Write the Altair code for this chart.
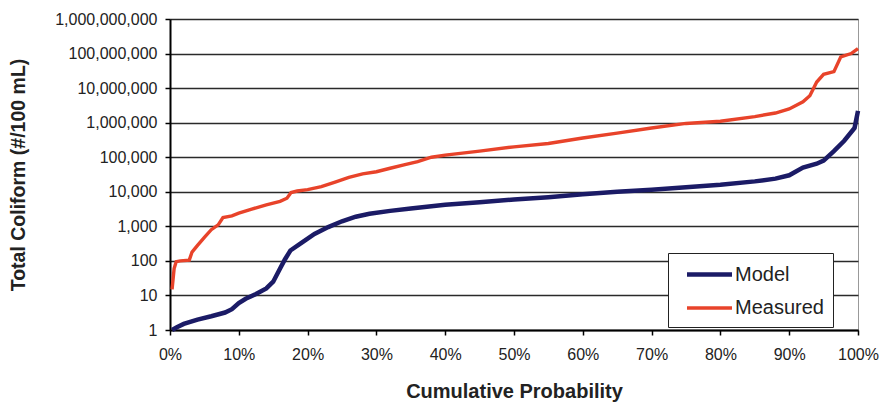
import altair as alt
import pandas as pd

model_pct = [0.3, 1.0, 2.0, 4.0, 6.0, 8.0, 9.0, 10.0, 11.0, 12.5, 14.0, 15.0, 16.0, 16.7, 17.5, 19.0,
             21.0, 23.0, 25.0, 27.0, 29.0, 32.0, 35.0, 40.0, 45.0, 50.0, 55.0, 60.0, 65.0, 70.0,
             75.0, 80.0, 85.0, 88.0, 90.0, 92.0, 94.0, 95.0, 96.5, 98.0, 99.5, 100.0]
model_val = [1, 1.2, 1.5, 2, 2.5, 3.2, 4, 6, 8, 11, 16, 25, 60, 110, 200, 320,
             600, 950, 1400, 1900, 2300, 2800, 3300, 4200, 5000, 6000, 7000, 8500, 10000, 11500,
             13500, 16000, 20000, 24000, 30000, 50000, 65000, 80000, 150000, 300000, 700000, 2200000]

meas_pct = [0.3, 0.6, 0.9, 1.5, 2.8, 3.2, 4.0, 5.0, 6.0, 7.0, 7.7, 9.0, 10.0, 12.0, 14.0, 16.0,
            17.0, 17.6, 18.5, 20.0, 22.0, 24.0, 26.0, 28.0, 30.0, 32.0, 34.0, 36.0, 38.0, 40.0,
            45.0, 50.0, 55.0, 60.0, 65.0, 70.0, 75.0, 80.0, 85.0, 88.0, 90.0, 92.0, 93.0, 94.0,
            95.0, 96.5, 97.5, 99.0, 100.0]
meas_val = [15, 60, 95, 100, 105, 180, 280, 480, 800, 1100, 1800, 2000, 2400, 3200, 4200, 5300,
            6500, 9500, 10500, 11500, 14000, 19000, 26000, 33000, 38000, 48000, 60000, 75000, 100000, 115000,
            150000, 200000, 250000, 360000, 500000, 700000, 950000, 1100000, 1500000, 1900000, 2500000, 4000000, 6000000, 15000000,
            25000000, 30000000, 80000000, 100000000, 140000000]

series = ["Model", "Measured"]
colors = ["#1b1b66", "#e8432a"]
widths = [4.5, 3.4]

rows = []
for p, v in zip(model_pct, model_val):
    rows.append({"p": p / 100, "v": v, "s": "Model"})
for p, v in zip(meas_pct, meas_val):
    rows.append({"p": p / 100, "v": v, "s": "Measured"})
df = pd.DataFrame(rows)

font = "Liberation Sans"

chart = alt.Chart(df).mark_line(interpolate="linear").encode(
    x=alt.X("p:Q", scale=alt.Scale(domain=[0, 1], nice=False),
            axis=alt.Axis(values=[i / 10 for i in range(11)], format=".0%",
                          title="Cumulative Probability", grid=False, labelFlush=False,
                          domainColor="black", domainWidth=2, tickColor="black",
                          tickWidth=1.5, tickSize=5, labelFontSize=16, labelColor="#222",
                          labelPadding=11, titleFontSize=20, titleFontWeight="bold",
                          titleColor="#222", titlePadding=19)),
    y=alt.Y("v:Q", scale=alt.Scale(type="log", domain=[1, 1e9], nice=False),
            axis=alt.Axis(values=[10 ** i for i in range(10)], format=",.0f",
                          title="Total Coliform (#/100 mL)", grid=True,
                          gridColor="#2a2a2a", gridWidth=1.6, gridOpacity=1,
                          domainColor="black", domainWidth=2, tickColor="black",
                          tickWidth=1.5, tickSize=5, labelFontSize=16, labelColor="#222",
                          labelPadding=8, titleFontSize=19.5, titleFontWeight="bold",
                          titleColor="#222", titleX=-142)),
    color=alt.Color("s:N", scale=alt.Scale(domain=series, range=colors),
                    legend=alt.Legend(title=None, orient="none", legendX=498, legendY=234,
                                      strokeColor="#222", fillColor="white", padding=9,
                                      symbolType="M-2.25,0H2.25", symbolSize=400,
                                      symbolStrokeWidth=5, symbolOffset=20,
                                      labelFontSize=20, labelColor="#222", rowPadding=11,
                                      labelOffset=13)),
    strokeWidth=alt.StrokeWidth("s:N", scale=alt.Scale(domain=series, range=widths), legend=None),
    order="p:Q",
).properties(
    width=688, height=311,
    autosize=alt.AutoSizeParams(type="none"),
    padding={"left": 170, "top": 19, "right": 23, "bottom": 78},
).configure(font=font).configure_view(stroke="#999", strokeWidth=1)

chart.save("out.html", embed_options={"renderer": "svg", "actions": False})
